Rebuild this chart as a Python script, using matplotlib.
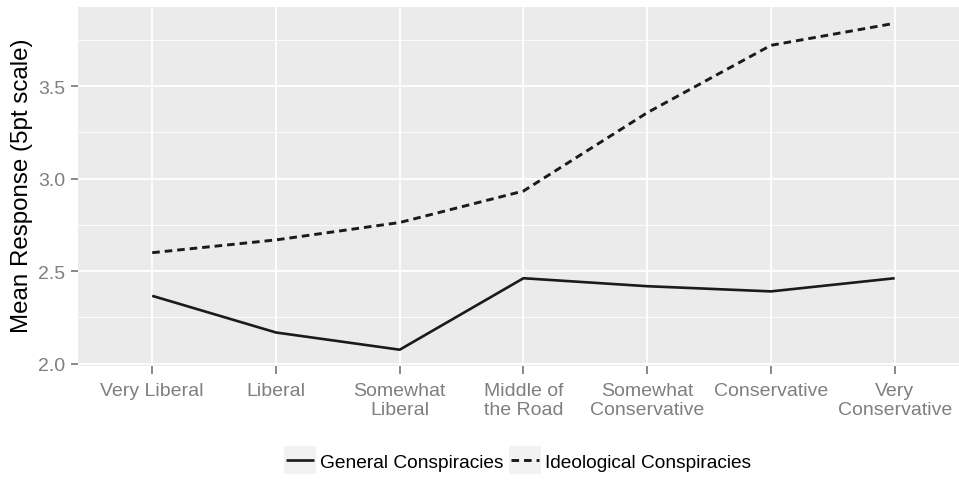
import matplotlib
matplotlib.use("Agg")
import matplotlib.pyplot as plt
from matplotlib.legend_handler import HandlerLine2D
from matplotlib.patches import Rectangle

plt.rcParams['font.family'] = ['Liberation Sans', 'DejaVu Sans']

categories = ["Very Liberal", "Liberal", "Somewhat\nLiberal", "Middle of\nthe Road",
              "Somewhat\nConservative", "Conservative", "Very\nConservative"]
general = [2.367, 2.169, 2.076, 2.462, 2.419, 2.391, 2.462]
ideological = [2.600, 2.669, 2.763, 2.933, 3.356, 3.720, 3.839]
series_names = ["General Conspiracies", "Ideological Conspiracies"]
y_ticks = [2.0, 2.5, 3.0, 3.5]
y_minor = [2.25, 2.75, 3.25, 3.75]

W, H = 959, 481
fig = plt.figure(figsize=(W / 100, H / 100), dpi=100)
left, top, bottom = 78, 8, 367
ax = fig.add_axes([left / W, (H - bottom) / H, 1 - left / W, (bottom - top) / H])
ax.set_facecolor('#EBEBEB')
for s in ax.spines.values():
    s.set_visible(False)

x = list(range(len(categories)))
lc = '#1a1a1a'
l1, = ax.plot(x, general, color=lc, lw=1.9, solid_capstyle='butt', zorder=3)
l2, = ax.plot(x, ideological, color=lc, lw=2.1, ls=(0, (2.6, 1.7)), dash_capstyle='butt', zorder=3)

ax.set_xlim(-0.6, 6.52)
ax.set_ylim(1.988, 3.927)
ax.set_xticks(x)
ax.set_xticklabels(categories)
ax.set_yticks(y_ticks)
ax.set_yticklabels([f"{v:.1f}" for v in y_ticks])
ax.set_yticks(y_minor, minor=True)
ax.grid(True, which='major', color='white', lw=1.3, zorder=1)
ax.grid(True, which='minor', axis='y', color='white', lw=0.6, zorder=1)
ax.set_axisbelow(True)
ax.tick_params(axis='both', which='major', colors='#7F7F7F', labelsize=14, width=1.3)
ax.tick_params(axis='x', length=5.8, pad=5.5)
ax.tick_params(axis='y', length=5.3, pad=4)
ax.tick_params(axis='y', which='minor', length=0)
for lab in ax.get_xticklabels():
    lab.set_linespacing(1.2)

fig.text(22.5 / W, 1 - 186 / H, "Mean Response (5pt scale)", rotation=90,
         ha='center', va='center', fontsize=17.4, color='black')


class KeyHandler(HandlerLine2D):
    def create_artists(self, legend, orig_handle, xdescent, ydescent, width, height, fontsize, trans):
        pad = 1.5
        bg = Rectangle((-xdescent - pad, -ydescent - 5), width + 2 * pad, height + 10,
                       facecolor='#F2F2F2', edgecolor='none', transform=trans)
        arts = super().create_artists(legend, orig_handle, xdescent, ydescent, width, height, fontsize, trans)
        return [bg] + list(arts)


leg = fig.legend([l1, l2], series_names, loc='center', bbox_to_anchor=((left + W) / 2 / W, 18 / H),
                 ncol=2, frameon=False, fontsize=13.8, handlelength=1.45, handletextpad=0.3,
                 columnspacing=0.4, handler_map={l1: KeyHandler(), l2: KeyHandler()})

fig.savefig("out.png", dpi=100)
